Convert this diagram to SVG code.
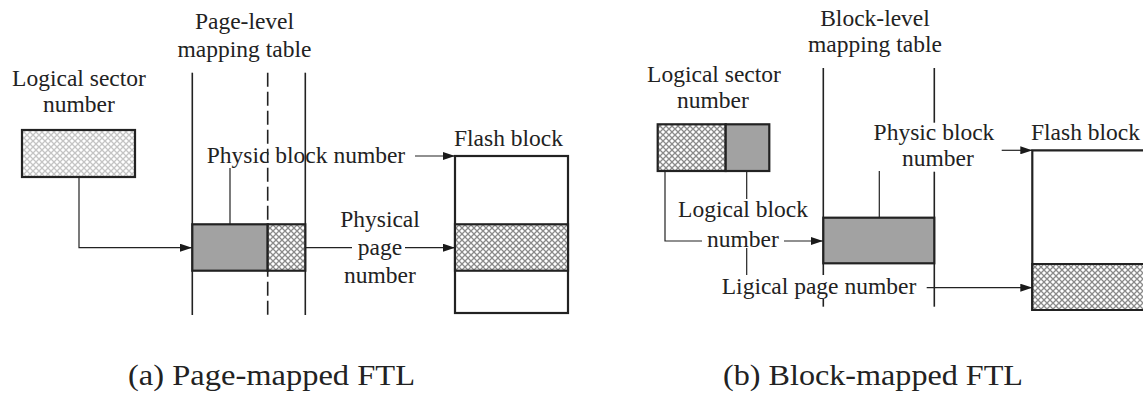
<svg xmlns="http://www.w3.org/2000/svg" width="1143" height="393" viewBox="0 0 1143 393">
  <defs>
    <pattern id="hatch" patternUnits="userSpaceOnUse" width="6" height="6">
      <rect width="6" height="6" fill="#ffffff"/>
      <path d="M0,0 L6,6 M6,0 L0,6" stroke="#8a8a8a" stroke-width="1.3"/>
    </pattern>
    <pattern id="hatchLight" patternUnits="userSpaceOnUse" width="6" height="6">
      <rect width="6" height="6" fill="#ffffff"/>
      <path d="M0,0 L6,6 M6,0 L0,6" stroke="#c4c4c4" stroke-width="1.3"/>
    </pattern>
    <marker id="arrow" viewBox="0 0 12 8" refX="12" refY="4" markerWidth="12" markerHeight="8" markerUnits="userSpaceOnUse" orient="auto">
      <path d="M0,0 L12,4 L0,8 Z" fill="#1a1a1a"/>
    </marker>
  </defs>
  <style>
    text { font-family: "Liberation Serif", "Times New Roman", serif; font-size: 23.5px; fill: #222; text-anchor: middle; }
    .cap { font-size: 30px; text-anchor: start; }
    .box { stroke: #222; stroke-width: 2.2; }
    .tline { stroke: #222; stroke-width: 1.6; fill: none; }
    .conn { stroke: #222; stroke-width: 1.2; fill: none; }
    .dark { fill: #a2a2a2; }
    .hatch { fill: url(#hatch); }
    .light { fill: url(#hatchLight); }
  </style>
  <rect width="1143" height="393" fill="#ffffff"/>

  <!-- (a) page-mapped FTL -->
  <g id="a-sector">
    <rect x="22" y="130" width="113" height="47" class="light box"/>
    <text x="79" y="86">Logical sector</text>
    <text x="79" y="112">number</text>
  </g>
  <g id="a-table">
    <text x="244.5" y="29">Page-level</text>
    <text x="244.5" y="57">mapping table</text>
    <line x1="192.3" y1="72.7" x2="192.3" y2="315" class="tline"/>
    <line x1="305.3" y1="72.7" x2="305.3" y2="315" class="tline"/>
    <line x1="267.7" y1="72.7" x2="267.7" y2="315" class="tline" stroke-dasharray="14 5"/>
    <rect x="192.3" y="224.3" width="75.4" height="46.4" class="dark box"/>
    <rect x="267.7" y="224.3" width="37.6" height="46.4" class="hatch box"/>
  </g>
  <g id="a-flash">
    <text x="508.5" y="146">Flash block</text>
    <rect x="455" y="156" width="113" height="157" fill="#fff" class="box"/>
    <rect x="455" y="224.3" width="113" height="46.4" class="hatch box"/>
  </g>
  <g id="a-connectors">
    <path d="M79,177 V247.7 H192" class="conn" marker-end="url(#arrow)"/>
    <line x1="230" y1="168" x2="230" y2="224.3" class="conn"/>
    <line x1="415" y1="156" x2="455" y2="156" class="conn" marker-end="url(#arrow)"/>
    <line x1="305.3" y1="247.7" x2="352" y2="247.7" class="conn"/>
    <line x1="405" y1="247.7" x2="455" y2="247.7" class="conn" marker-end="url(#arrow)"/>
  </g>
  <g id="a-labels">
    <text x="306" y="162.5">Physic block number</text>
    <text x="380" y="227">Physical</text>
    <text x="380" y="255">page</text>
    <text x="380" y="283">number</text>
  </g>
  <text class="cap" x="128" y="385" textLength="287" lengthAdjust="spacingAndGlyphs">(a) Page-mapped FTL</text>

  <!-- (b) block-mapped FTL -->
  <g id="b-sector">
    <text x="714" y="82">Logical sector</text>
    <text x="713" y="108">number</text>
    <rect x="657.7" y="124.3" width="68" height="46.7" class="hatch box"/>
    <rect x="725.7" y="124.3" width="43.6" height="46.7" class="dark box"/>
  </g>
  <g id="b-table">
    <text x="875" y="26">Block-level</text>
    <text x="875" y="52">mapping table</text>
    <line x1="823.3" y1="68" x2="823.3" y2="275" class="tline"/>
    <line x1="823.3" y1="299" x2="823.3" y2="306.7" class="tline"/>
    <line x1="934.3" y1="68" x2="934.3" y2="122.7" class="tline"/>
    <line x1="934.3" y1="171.7" x2="934.3" y2="306.7" class="tline"/>
    <rect x="823.3" y="217.7" width="111" height="45.6" class="dark box"/>
  </g>
  <g id="b-flash">
    <text x="1085.5" y="140">Flash block</text>
    <path d="M1150,150.3 H1032.3 V310 H1150" fill="#fff" class="box"/>
    <path d="M1150,264 H1032.3 V310 H1150" class="hatch box"/>
  </g>
  <g id="b-connectors">
    <path d="M665,171 V241 H702" class="conn"/>
    <line x1="784" y1="241" x2="823" y2="241" class="conn" marker-end="url(#arrow)"/>
    <line x1="746.7" y1="171" x2="746.7" y2="199" class="conn"/>
    <line x1="746.7" y1="248" x2="746.7" y2="275" class="conn"/>
    <line x1="879.3" y1="171" x2="879.3" y2="217.7" class="conn"/>
    <line x1="1001.7" y1="150.3" x2="1032.3" y2="150.3" class="conn" marker-end="url(#arrow)"/>
    <line x1="926.7" y1="287.7" x2="1032.3" y2="287.7" class="conn" marker-end="url(#arrow)"/>
  </g>
  <g id="b-labels">
    <text x="934" y="140">Physic block</text>
    <text x="938" y="166">number</text>
    <text x="743" y="217">Logical block</text>
    <text x="743" y="247">number</text>
    <text x="819" y="294">Ligical page number</text>
  </g>
  <text class="cap" x="723" y="385" textLength="300" lengthAdjust="spacingAndGlyphs">(b) Block-mapped FTL</text>
</svg>
